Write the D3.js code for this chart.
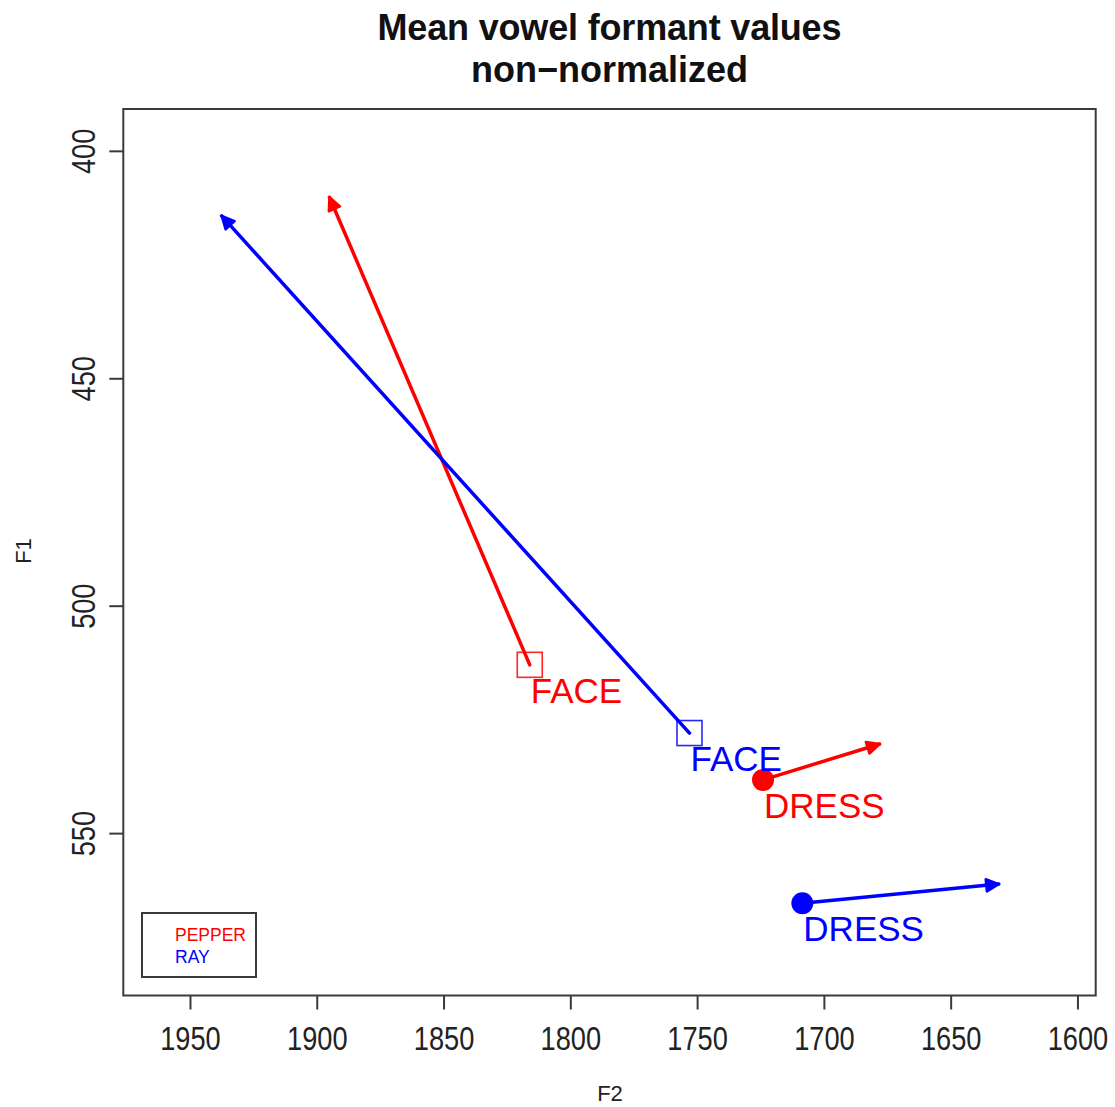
<!DOCTYPE html>
<html>
<head>
<meta charset="utf-8">
<script src="https://cdn.jsdelivr.net/npm/d3@7"></script>
<style>
  html, body { margin: 0; padding: 0; background: #fff; }
  svg { display: block; font-family: "Liberation Sans", Arial, Helvetica, sans-serif; }
</style>
</head>
<body>
<svg id="chart" width="1115" height="1107"></svg>
<script>
// Mean formant values (Hz) per speaker and vowel
const speakers = ["PEPPER", "RAY"];
const speakerColors = ["#ff0000", "#0000ff"];
const vowels = ["FACE", "DRESS"];
const vowelShapes = ["square", "circle"];

// start points (nucleus) and arrow end points (glide target)
const pepperF2Start = [1816, 1724];
const pepperF1Start = [513.0, 538.3];
const pepperF2End   = [1895, 1678];
const pepperF1End   = [410.2, 530.4];

const rayF2Start = [1753, 1708.5];
const rayF1Start = [528.0, 565.4];
const rayF2End   = [1937.5, 1631];
const rayF1End   = [414.3, 561.2];

const xTicks = [1950, 1900, 1850, 1800, 1750, 1700, 1650, 1600];
const yTicks = [400, 450, 500, 550];

const titleLines = ["Mean vowel formant values", "non\u2212normalized"];

const rows = [];
[[pepperF2Start, pepperF1Start, pepperF2End, pepperF1End],
 [rayF2Start, rayF1Start, rayF2End, rayF1End]].forEach((s, si) => {
  vowels.forEach((v, vi) => {
    rows.push({
      speaker: speakers[si], color: speakerColors[si], vowel: v, shape: vowelShapes[vi],
      f2: s[0][vi], f1: s[1][vi], f2e: s[2][vi], f1e: s[3][vi]
    });
  });
});

const svg = d3.select("#chart");
const box = { left: 123.3, right: 1095.7, top: 109, bottom: 995.5 };

// reversed axes: F2 decreases to the right, F1 increases downward
const x = d3.scaleLinear().domain([1976.3, 1592.8]).range([box.left, box.right]);
const y = d3.scaleLinear().domain([390.8, 585.7]).range([box.top, box.bottom]);

const axisColor = "#3a3a3a";

// plot frame
svg.append("rect")
  .attr("x", box.left).attr("y", box.top)
  .attr("width", box.right - box.left).attr("height", box.bottom - box.top)
  .attr("fill", "none").attr("stroke", axisColor).attr("stroke-width", 2);

// x axis (narrow, tall tick numerals)
const xAxis = d3.axisBottom(x).tickValues(xTicks).tickSize(14).tickPadding(16).tickFormat(d3.format("d"));
const gx = svg.append("g").attr("transform", `translate(0,${box.bottom})`).call(xAxis);
gx.select(".domain").remove();
gx.selectAll(".tick line").attr("stroke", axisColor).attr("stroke-width", 2);
gx.selectAll(".tick text")
  .attr("fill", "#222").attr("font-size", 34).attr("font-family", "Liberation Sans, Arial, sans-serif")
  .attr("transform", "scale(0.8,1)");

// y axis, labels rotated to run upward
const yAxis = d3.axisLeft(y).tickValues(yTicks).tickSize(14).tickFormat(d3.format("d"));
const gy = svg.append("g").attr("transform", `translate(${box.left},0)`).call(yAxis);
gy.select(".domain").remove();
gy.selectAll(".tick line").attr("stroke", axisColor).attr("stroke-width", 2);
gy.selectAll(".tick text")
  .attr("fill", "#222").attr("font-size", 34).attr("font-family", "Liberation Sans, Arial, sans-serif")
  .attr("x", null).attr("dy", null)
  .attr("text-anchor", "middle")
  .attr("transform", "translate(-28,0) rotate(-90) scale(0.8,1)");

// axis titles
svg.append("text").attr("x", 610).attr("y", 1101).attr("text-anchor", "middle")
  .attr("font-size", 22).attr("fill", "#222").text("F2");
svg.append("text").attr("transform", "translate(31,551) rotate(-90)").attr("text-anchor", "middle")
  .attr("font-size", 22).attr("fill", "#222").text("F1");

// title
svg.selectAll("text.title").data(titleLines).join("text")
  .attr("class", "title")
  .attr("x", (box.left + box.right) / 2)
  .attr("y", (d, i) => 40 + i * 42)
  .attr("text-anchor", "middle")
  .attr("font-size", 36).attr("font-weight", "bold").attr("fill", "#111")
  .attr("textLength", (d, i) => i === 0 ? 464 : null)
  .text(d => d);

// glide arrows: shaft plus a small solid head
const headLen = 14, headAng = Math.PI / 7;
const shaftPath = d => {
  const p = d3.path();
  p.moveTo(x(d.f2), y(d.f1)); p.lineTo(x(d.f2e), y(d.f1e));
  return p.toString();
};
const headPath = d => {
  const x0 = x(d.f2), y0 = y(d.f1), x1 = x(d.f2e), y1 = y(d.f1e);
  const a = Math.atan2(y1 - y0, x1 - x0);
  const p = d3.path();
  p.moveTo(x1, y1);
  p.lineTo(x1 - headLen * Math.cos(a - headAng), y1 - headLen * Math.sin(a - headAng));
  p.lineTo(x1 - headLen * Math.cos(a + headAng), y1 - headLen * Math.sin(a + headAng));
  p.closePath();
  return p.toString();
};
const arrows = svg.append("g");
arrows.selectAll("path.shaft").data(rows).join("path")
  .attr("class", "shaft").attr("d", shaftPath)
  .attr("fill", "none").attr("stroke", d => d.color)
  .attr("stroke-width", 3.5).attr("stroke-linecap", "round");
arrows.selectAll("path.head").data(rows).join("path")
  .attr("class", "head").attr("d", headPath)
  .attr("fill", d => d.color).attr("stroke", d => d.color)
  .attr("stroke-width", 2.5).attr("stroke-linejoin", "round");

// nucleus markers
const sq = 25;
const marks = svg.append("g");
marks.selectAll("rect").data(rows.filter(d => d.shape === "square")).join("rect")
  .attr("x", d => x(d.f2) - sq / 2).attr("y", d => y(d.f1) - sq / 2)
  .attr("width", sq).attr("height", sq)
  .attr("fill", "none").attr("stroke", d => d.color).attr("stroke-width", 1.6).attr("stroke-opacity", 0.85);
marks.selectAll("circle").data(rows.filter(d => d.shape === "circle")).join("circle")
  .attr("cx", d => x(d.f2)).attr("cy", d => y(d.f1)).attr("r", 11)
  .attr("fill", d => d.color);

// vowel labels
svg.append("g").selectAll("text").data(rows).join("text")
  .attr("x", d => x(d.f2) + 1).attr("y", d => y(d.f1) + 38)
  .attr("font-size", 35).attr("fill", d => d.color)
  .text(d => d.vowel);

// legend
const leg = svg.append("g");
leg.append("rect").attr("x", 142).attr("y", 913).attr("width", 114).attr("height", 64)
  .attr("fill", "none").attr("stroke", axisColor).attr("stroke-width", 2);
leg.selectAll("text").data(speakers).join("text")
  .attr("x", 175).attr("y", (d, i) => 941 + i * 22)
  .attr("font-size", 17.5).attr("fill", (d, i) => speakerColors[i])
  .text(d => d);
</script>
</body>
</html>
